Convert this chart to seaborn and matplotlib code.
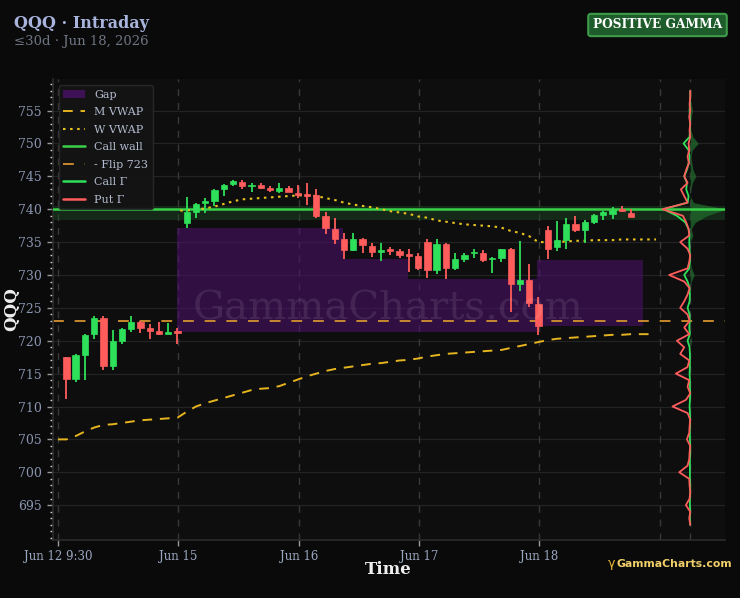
import numpy as np
import pandas as pd
import matplotlib
matplotlib.use("Agg")
import matplotlib.pyplot as plt
from matplotlib.patches import Patch, Rectangle
from matplotlib.lines import Line2D
import seaborn as sns

# ---------------- data ----------------
day_labels = ["Jun 12 9:30", "Jun 15", "Jun 16", "Jun 17", "Jun 18"]
bars_per_day = [13, 13, 13, 13, 10]

opens = [717.5, 714.2, 717.9, 721.0, 723.5, 716.2, 719.9, 721.8, 722.9, 722.0, 721.5, 721.1, 721.4,
         737.9, 739.5, 740.9, 741.2, 743.0, 743.8, 744.2, 743.5, 743.7, 743.3, 742.7, 743.3, 742.5,
         742.1, 742.1, 738.9, 737.0, 735.5, 733.8, 735.4, 734.4, 733.5, 733.9, 733.7, 733.0, 732.9,
         735.0, 730.8, 734.7, 731.1, 732.4, 733.3, 733.4, 732.4, 732.6, 733.9, 728.6, 729.2, 725.6,
         736.9, 734.2, 735.3, 737.7, 736.8, 738.1, 739.1, 739.2, 740.0, 739.4]
highs = [717.6, 718.0, 721.0, 723.8, 723.8, 721.7, 722.0, 723.7, 723.0, 722.6, 722.9, 722.7, 721.9,
         741.8, 741.0, 741.7, 743.1, 743.9, 744.5, 744.5, 744.0, 744.0, 743.6, 744.0, 743.6, 743.7,
         744.0, 743.1, 739.6, 738.6, 736.4, 736.4, 735.6, 734.8, 734.8, 734.3, 733.9, 733.9, 733.3,
         735.5, 735.5, 734.8, 733.3, 733.4, 733.9, 733.8, 732.7, 734.0, 734.1, 735.2, 731.6, 726.6,
         737.4, 738.2, 738.6, 739.0, 738.3, 739.2, 739.8, 740.4, 740.5, 740.1]
lows = [711.2, 713.8, 714.1, 720.3, 715.5, 715.5, 719.5, 721.4, 721.2, 720.3, 720.9, 721.0, 719.5,
        737.2, 738.7, 739.4, 740.5, 742.0, 743.6, 743.1, 742.6, 743.1, 742.6, 742.5, 742.6, 741.7,
        740.6, 738.7, 736.2, 734.7, 732.4, 733.6, 733.3, 732.8, 732.1, 733.1, 732.6, 730.5, 730.8,
        729.5, 730.2, 729.4, 730.7, 732.0, 732.6, 732.0, 730.3, 731.9, 724.4, 727.6, 725.2, 720.8,
        732.4, 733.7, 734.0, 736.5, 734.8, 737.8, 738.3, 738.5, 739.5, 738.8]
closes = [714.2, 717.9, 720.8, 723.5, 716.2, 719.9, 721.8, 722.9, 722.0, 721.5, 721.1, 721.4, 721.2,
          739.5, 740.8, 741.3, 742.9, 743.7, 744.3, 743.5, 743.7, 743.2, 742.9, 743.3, 742.6, 742.1,
          742.0, 739.0, 737.1, 735.5, 733.8, 735.5, 734.5, 733.5, 733.8, 733.6, 733.0, 732.9, 731.0,
          730.8, 734.7, 731.1, 732.4, 733.1, 733.5, 732.3, 732.6, 733.9, 728.6, 729.2, 725.7, 722.3,
          734.0, 735.3, 737.7, 736.8, 738.1, 739.1, 739.5, 739.9, 739.8, 738.8]

m_vwap = [705.0, 705.5, 706.2, 706.8, 707.2, 707.3, 707.5, 707.7, 707.9, 708.0, 708.1, 708.2, 708.3,
          709.2, 710.0, 710.5, 710.9, 711.3, 711.7, 712.1, 712.5, 712.7, 712.8, 713.1, 713.6, 714.1,
          714.6, 715.0, 715.4, 715.7, 715.9, 716.1, 716.3, 716.5, 716.6, 716.8, 717.0, 717.1, 717.3,
          717.6, 717.8, 718.0, 718.1, 718.2, 718.3, 718.4, 718.5, 718.6, 718.9, 719.2, 719.5, 719.8,
          720.1, 720.3, 720.4, 720.5, 720.6, 720.7, 720.8, 720.9, 720.9, 721.0]
w_vwap = [739.8, 740.0, 740.1, 740.4, 740.8, 741.2, 741.5, 741.6, 741.7, 741.8, 741.9, 742.0, 742.1,
          742.1, 742.0, 741.7, 741.4, 741.0, 740.7, 740.5, 740.3, 740.0, 739.7, 739.5, 739.3, 738.9,
          738.7, 738.3, 738.1, 737.9, 737.7, 737.6, 737.5, 737.4, 737.2, 736.7, 736.4, 735.9, 735.0,
          735.0, 735.0, 735.1, 735.2, 735.2, 735.3, 735.3, 735.3, 735.4, 735.4]   # from Jun 15

# unfilled gap zones: start bar, end bar, low, high
gap_start = [12.9, 30.8, 37.8, 51.7]
gap_end = [30.8, 37.8, 51.7, 63.15]
gap_low = [721.3, 721.3, 721.3, 722.3]
gap_high = [737.2, 732.4, 729.4, 732.3]

call_wall = 740
flip_level = 723

# gamma profile by strike (relative magnitude)
strikes = list(range(758, 691, -1))
put_gamma = [0, 0, 2, 0, 3, 0, 2, 0, 5, 3, 8, 4, 12, 18, 8, 28, 18, 8, 83, 22, 12, 5, 3, 30, 8, 0, 3, 8,
             63, 18, 2, 8, 18, 30, 8, 2, 18, 3, 40, 18, 30, 3, 8, 43, 3, 8, 0, 13, 53, 8, 0, 2, 3, 10,
             0, 2, 3, 8, 33, 3, 2, 0, 2, 13, 0, 3, 0]
call_gamma = [0, 0, 1, 2, 1, 0, 1, 2, 20, 5, 2, 5, 10, 18, 10, 12, 5, 8, 80, 40, 15, 5, 2, 3, 2, 1, 1, 3,
              18, 8, 2, 1, 2, 8, 2, 1, 3, 1, 8, 2, 1, 1, 1, 2, 1, 1, 0, 1, 2, 1, 0, 1, 1, 1, 0, 0, 1, 1, 1,
              1, 0, 0, 1, 1, 0, 1, 0]
net_gamma = [0, 0, 3, 7, 3, 0, 2, 8, 24, 6, 2, 5, 8, 17, 6, 2, 0, 10, 107, 50, 15, 3, 8, 0, 0, 0, 0, 4,
             12, 3, 0, 0, 0, 0, 0, 0, 0, 0, 4, 0, 0, 0, 0, 0, 0, 0, 0, 0, 0, 0, 0, 0, 0, 0, 0, 0, 0, 0, 0,
             0, 0, 0, 0, 0, 0, 0, 0]

# ---------------- style ----------------
BG = "#0a0a0a"
AXBG = "#0e0e0e"
GREEN = "#2fe05a"
RED = "#ff5c5c"
GOLD = "#e6b41e"
FLIP = "#d4922e"
WALL = "#3ad14a"
PURPLE = "#4a1068"

sns.set_theme(style="dark", rc={"axes.facecolor": AXBG, "figure.facecolor": BG})
plt.rcParams["font.family"] = ["DejaVu Serif", "DejaVu Sans"]

fig = plt.figure(figsize=(7.4, 5.98), dpi=100)
ax = fig.add_axes([52.5 / 740, 58 / 598, 672 / 740, 461 / 598])
ax.set_facecolor(AXBG)

n = len(opens)
day_starts = np.concatenate([[0], np.cumsum([13] * (len(bars_per_day) - 1))])
xpos = np.concatenate([ds + np.arange(nb) + 0.9 for ds, nb in zip(day_starts, bars_per_day)])
prof_center = 68.3
prof_scale = 3.0 / 83.0

# grid
for yv in range(695, 760, 5):
    ax.axhline(yv, color="#232323", lw=0.9, zorder=0.6)
for xv in list(day_starts) + [65, prof_center]:
    ax.axvline(xv, color="#383838", lw=1.0, ls=(0, (5, 5)), zorder=0.7)

# gaps
for x0, x1, lo, hi in zip(gap_start, gap_end, gap_low, gap_high):
    ax.add_patch(Rectangle((x0, lo), x1 - x0, hi - lo, facecolor=PURPLE, alpha=0.6,
                           edgecolor="none", zorder=0.8))

# call wall
ax.axhspan(738.3, 740.5, color="#1d4a22", alpha=0.45, lw=0, zorder=0.9)
ax.axhline(call_wall, color=WALL, lw=1.8, zorder=3)
ax.axhline(flip_level, color=FLIP, lw=1.3, ls=(0, (6, 6)), zorder=2)

# candles
df = pd.DataFrame({"x": xpos, "o": opens, "h": highs, "l": lows, "c": closes})
df["up"] = df["c"] >= df["o"]
cols = np.where(df["up"], GREEN, RED)
ax.vlines(df["x"], df["l"], df["h"], colors=cols, lw=1.3, zorder=4)
body_lo = np.minimum(df["o"], df["c"])
body_h = np.maximum(np.abs(df["c"] - df["o"]), 0.25)
ax.bar(df["x"], body_h, bottom=body_lo, width=0.68, color=cols, edgecolor=cols, lw=0.5, zorder=5)

# VWAPs
mv = pd.DataFrame({"x": np.concatenate([[0], xpos, [64.6]]),
                   "v": np.concatenate([[m_vwap[0]], m_vwap, [m_vwap[-1]]])})
sns.lineplot(data=mv, x="x", y="v", ax=ax, color=GOLD, lw=1.4, ls=(0, (5, 4)),
             zorder=3, legend=False, sort=False, estimator=None)
wx = xpos[13:]
wv = pd.DataFrame({"x": np.concatenate([[13.2], wx, [64.6]]),
                   "v": np.concatenate([[w_vwap[0]], w_vwap, [w_vwap[-1]]])})
sns.lineplot(data=wv, x="x", y="v", ax=ax, color="#e8c21e", lw=1.5, ls=(0, (1.2, 2.2)),
             zorder=3, legend=False, sort=False, estimator=None)

# gamma profile
st = np.array(strikes, dtype=float)
net = np.array(net_gamma, dtype=float)
ax.fill_betweenx(st, prof_center, prof_center + net * prof_scale, color="#1f6a2c", alpha=0.75,
                 lw=0, zorder=2)
ax.plot(prof_center - np.array(call_gamma) * prof_scale, st, color=GREEN, lw=1.3, zorder=6)
ax.plot(prof_center - np.array(put_gamma) * prof_scale, st, color=RED, lw=1.3, zorder=6)

# axes
ax.set_xlim(-0.6, 72)
ax.set_ylim(689.7, 759.8)
ax.set_xticks(day_starts)
ax.set_xticklabels(day_labels)
ax.set_yticks(range(695, 760, 5))
ax.yaxis.set_minor_locator(matplotlib.ticker.MultipleLocator(1))
ax.tick_params(axis="y", which="major", colors="#8a95b0", labelsize=9, length=4, width=1, left=True,
               color="#9a9a9a")
ax.tick_params(axis="y", which="minor", length=2.5, width=1, color="#cfcfcf", left=True)
ax.tick_params(axis="x", colors="#9aa6c0", labelsize=8.5, length=4, width=1, bottom=True,
               color="#9a9a9a")
for s in ["top", "right"]:
    ax.spines[s].set_visible(False)
for s in ["left", "bottom"]:
    ax.spines[s].set_color("#2c2c2c")
    ax.spines[s].set_linewidth(1.2)
ax.grid(False)
ax.set_xlabel("Time", color="#eeeeee", fontsize=12, fontweight="bold")
ax.xaxis.set_label_coords(0.5, -0.046)
ax.set_ylabel("QQQ", color="#eeeeee", fontsize=12, fontweight="bold")
ax.yaxis.set_label_coords(-0.0484, 0.5)

# watermark
ax.text(0.5, 0.5, "GammaCharts.com", transform=ax.transAxes, ha="center", va="center",
        fontsize=29, color="#ffffff", alpha=0.09, zorder=7)

# legend
handles = [
    Patch(facecolor=PURPLE, alpha=0.8, edgecolor="none", label="Gap"),
    Line2D([], [], color=GOLD, lw=1.4, ls=(0, (5, 4)), label="M VWAP"),
    Line2D([], [], color="#e8c21e", lw=1.5, ls=(0, (1.2, 2.2)), label="W VWAP"),
    Line2D([], [], color=WALL, lw=1.8, label="Call wall"),
    Line2D([], [], color=FLIP, lw=1.3, ls=(0, (6, 6)), label="- Flip 723"),
    Line2D([], [], color=GREEN, lw=1.8, label="Call Γ"),
    Line2D([], [], color=RED, lw=1.8, label="Put Γ"),
]
leg = ax.legend(handles=handles, loc="upper left", fontsize=8, frameon=True, facecolor="#141414",
                edgecolor="#2a2a2a", framealpha=0.9, labelcolor="#b3bccf", handlelength=2.0,
                borderaxespad=0.55, labelspacing=0.68)
leg.set_zorder(10)

# titles
fig.text(14 / 740, 1 - 24 / 598, "QQQ · Intraday", fontsize=11.5, fontweight="bold", color="#a8b4dc",
         va="center", ha="left")
fig.text(14 / 740, 1 - 41 / 598, "≤30d · Jun 18, 2026", fontsize=9.5, color="#6e7582", va="center",
         ha="left")
fig.text(657.5 / 740, 1 - 25 / 598, "POSITIVE GAMMA", fontsize=8.8, fontweight="bold", color="white",
         ha="center", va="center",
         bbox=dict(boxstyle="round,pad=0.38,rounding_size=0.2", facecolor="#1e5c2b", edgecolor="#3d9b4a",
                   lw=1.5))
fig.text(732 / 740, 1 - 564 / 598, "GammaCharts.com", fontsize=7.8, fontweight="bold", color="#f0cf6a",
         family="DejaVu Sans", ha="right", va="center")
fig.text(615 / 740, 1 - 563 / 598, "γ", fontsize=9, color="#e8b830", family="DejaVu Sans",
         ha="right", va="center")

fig.savefig("out.png", dpi=100, facecolor=BG)
